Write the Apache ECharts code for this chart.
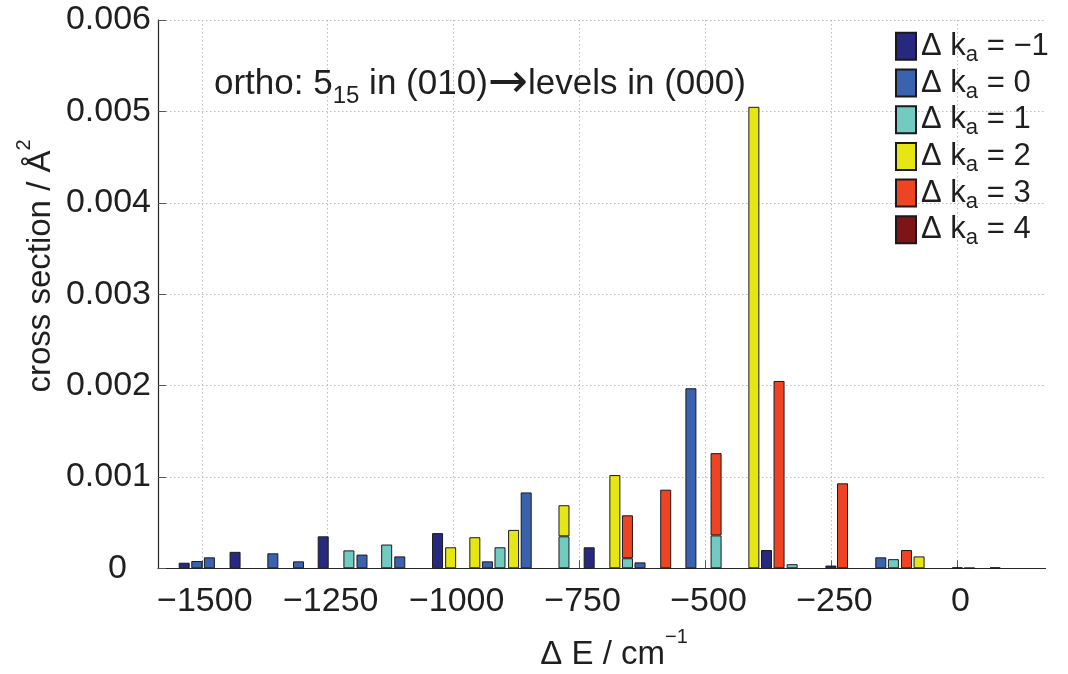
<!DOCTYPE html>
<html>
<head>
<meta charset="utf-8">
<script src="https://cdn.jsdelivr.net/npm/echarts@6/dist/echarts.min.js"></script>
<style>
  html, body { margin: 0; padding: 0; background: #fff; }
  #chart { width: 1068px; height: 674px; }
</style>
</head>
<body>
<div id="chart"></div>
<script>
// Energy transfer ΔE (cm^-1) of each final level, one bar slot per level
const energies = [
  -1535, -1510, -1485, -1434, -1359, -1308, -1259, -1208, -1182, -1133, -1107, -1032, -1006,
  -958, -933, -908, -881, -856, -781, -731, -680, -655, -630, -579, -529, -479,
  -404, -379, -354, -328, -251, -228, -152, -127, -101, -76, 0, 24, 75
];

const N = null;
// Cross sections (Å^2) per Δka, aligned with the energies above
const kaMinus1 = [
  6.1e-5, N, N, 1.8e-4, N, N, 3.5e-4, N, N, N, N, 3.85e-4, N,
  N, N, N, N, N, N, 2.3e-4, N, N, N, N, N, N,
  N, 2.0e-4, N, N, 3e-5, N, N, N, N, N, N, N, N
];
const ka0 = [
  N, 8e-5, 1.2e-4, N, 1.64e-4, 7.6e-5, N, N, 1.5e-4, N, 1.3e-4, N, N,
  N, 7.6e-5, N, N, 8.3e-4, N, N, N, N, 6.5e-5, N, 1.97e-3, N,
  N, N, N, N, N, N, 1.2e-4, N, N, N, N, N, N
];
const ka1 = [
  N, N, N, N, N, N, N, 1.96e-4, N, 2.6e-4, N, N, N,
  N, N, 2.3e-4, N, N, 3.5e-4, N, N, 1.1e-4, N, N, N, 3.6e-4,
  N, N, N, 4.5e-5, N, N, N, 1.0e-4, N, N, N, N, N
];
const ka2 = [
  N, N, N, N, N, N, N, N, N, N, N, N, 2.3e-4,
  3.4e-4, N, N, 4.2e-4, N, 3.4e-4, N, 1.02e-3, N, N, N, N, N,
  5.05e-3, N, N, N, N, N, N, N, N, 1.3e-4, N, N, N
];
const ka3 = [
  N, N, N, N, N, N, N, N, N, N, N, N, N,
  N, N, N, N, N, N, N, N, 4.7e-4, N, 8.6e-4, N, 9.0e-4,
  N, N, 2.05e-3, N, N, 9.3e-4, N, N, 2.0e-4, N, N, N, N
];
const ka4 = [
  N, N, N, N, N, N, N, N, N, N, N, N, N,
  N, N, N, N, N, N, N, N, N, N, N, N, N,
  N, N, N, N, N, N, N, N, N, N, 1e-5, 5e-6, 1e-5
];

const seriesValues = [kaMinus1, ka0, ka1, ka2, ka3, ka4];
const kaLabels = ['−1', '0', '1', '2', '3', '4'];
const kaColors = ['#27297e', '#3b62ae', '#72cbc1', '#e6e614', '#ee4423', '#7e1416'];
const xTicks = [-1500, -1250, -1000, -750, -500, -250, 0];

const FONT = 'Liberation Sans, Arial, Helvetica, sans-serif';
const INK = '#1f1f1f';
const AXIS = '#262626';
const GRID = '#bcbcbc';

const seriesNames = kaLabels.map(k => 'Δ ka = ' + k);

// value first, energy second: the first numeric dimension is the one that gets stacked
const series = seriesValues.map((vals, s) => ({
  name: seriesNames[s],
  type: 'bar',
  stack: 'total',
  barWidth: 11,
  encode: { x: 1, y: 0 },
  data: energies.map((e, i) => [vals[i] === null ? '-' : vals[i], e]),
  itemStyle: { color: kaColors[s], borderColor: '#1a1a1a', borderWidth: 1 }
}));

const fmtMinus = v => (v < 0 ? '−' + Math.abs(v) : String(v));

// rich-text styles for titles with a superscript (all tokens share one line height)
const titleRich = {
  n: { fontSize: 33, lineHeight: 33, padding: [11, 0, 0, 0], fontFamily: FONT, fill: INK },
  p: { fontSize: 20, lineHeight: 20, padding: [0.5, 0, 23.5, 0], fontFamily: FONT, fill: INK }
};

const chart = echarts.init(document.getElementById('chart'), null, { renderer: 'canvas' });
chart.setOption({
  animation: false,
  backgroundColor: '#ffffff',
  textStyle: { fontFamily: FONT, color: INK },
  grid: { left: 158, right: 22.5, top: 20, bottom: 105.7, containLabel: false, outerBoundsMode: 'none' },
  legend: {
    orient: 'vertical',
    left: 895,
    top: 26.8,
    padding: 0,
    itemWidth: 20,
    itemHeight: 27,
    itemGap: -2.3,
    icon: 'rect',
    data: seriesNames,
    formatter: name => {
      const k = kaLabels[seriesNames.indexOf(name)];
      return '{t|Δ k}{s|a}{t| = ' + k + '}';
    },
    textStyle: {
      color: INK,
      fontFamily: FONT,
      rich: {
        t: { fontSize: 31, lineHeight: 31, padding: [4, 0, 4, 0], fontFamily: FONT, color: INK },
        s: { fontSize: 22, lineHeight: 22, padding: [17, 0, 0, 0], fontFamily: FONT, color: INK }
      }
    }
  },
  xAxis: {
    type: 'value',
    min: -1587,
    max: 175,
    axisLine: { show: true, onZero: false, lineStyle: { color: AXIS, width: 1.2 } },
    axisTick: { show: true, inside: true, length: 8, customValues: xTicks, lineStyle: { color: '#555', width: 1 } },
    axisLabel: {
      customValues: xTicks,
      formatter: fmtMinus,
      fontSize: 34,
      fontFamily: FONT,
      color: INK,
      margin: 16,
      padding: [0, 0, 0, 6]
    },
    splitLine: { show: true, lineStyle: { color: GRID, type: [1.5, 2.5], width: 1 } }
  },
  yAxis: {
    type: 'value',
    min: 0,
    max: 0.006,
    interval: 0.001,
    axisLine: { show: true, onZero: false, lineStyle: { color: AXIS, width: 1.2 } },
    axisTick: { show: true, inside: true, length: 8, lineStyle: { color: '#555', width: 1 } },
    axisLabel: {
      fontSize: 34,
      fontFamily: FONT,
      color: INK,
      margin: 7,
      formatter: v => (v === 0 ? '{z|0}' : v.toFixed(3)),
      rich: { z: { fontSize: 34, fontFamily: FONT, color: INK, padding: [0, 24, 0, 0] } }
    },
    splitLine: { show: true, lineStyle: { color: GRID, type: [1.5, 2.5], width: 1 } }
  },
  graphic: [
    {
      // in-plot annotation
      type: 'text',
      left: 214,
      top: 57,
      z: 10,
      style: {
        text: '{m|ortho: 5}{s|15}{m| in (010)}{r|→}{m|levels in (000)}',
        rich: {
          m: { fontSize: 35, lineHeight: 35, padding: [10, 0, 7, 0], fontFamily: FONT, fill: INK },
          s: { fontSize: 24, lineHeight: 24, padding: [27.5, 0, 0.5, 0], fontFamily: FONT, fill: INK },
          r: { fontSize: 48, lineHeight: 48, padding: [4, 0, 0, 0], fontFamily: 'DejaVu Sans', fill: INK }
        }
      }
    },
    {
      // x-axis title
      type: 'text',
      x: 614,
      y: 649,
      z: 10,
      style: {
        text: '{n|Δ E / cm}{p|−1}',
        align: 'center',
        verticalAlign: 'middle',
        rich: titleRich
      }
    },
    {
      // y-axis title
      type: 'text',
      x: 35.5,
      y: 266,
      rotation: Math.PI / 2,
      z: 10,
      style: {
        text: '{n|cross section / Å}{p|2}',
        align: 'center',
        verticalAlign: 'middle',
        rich: titleRich
      }
    }
  ],
  series: series
});
</script>
</body>
</html>
